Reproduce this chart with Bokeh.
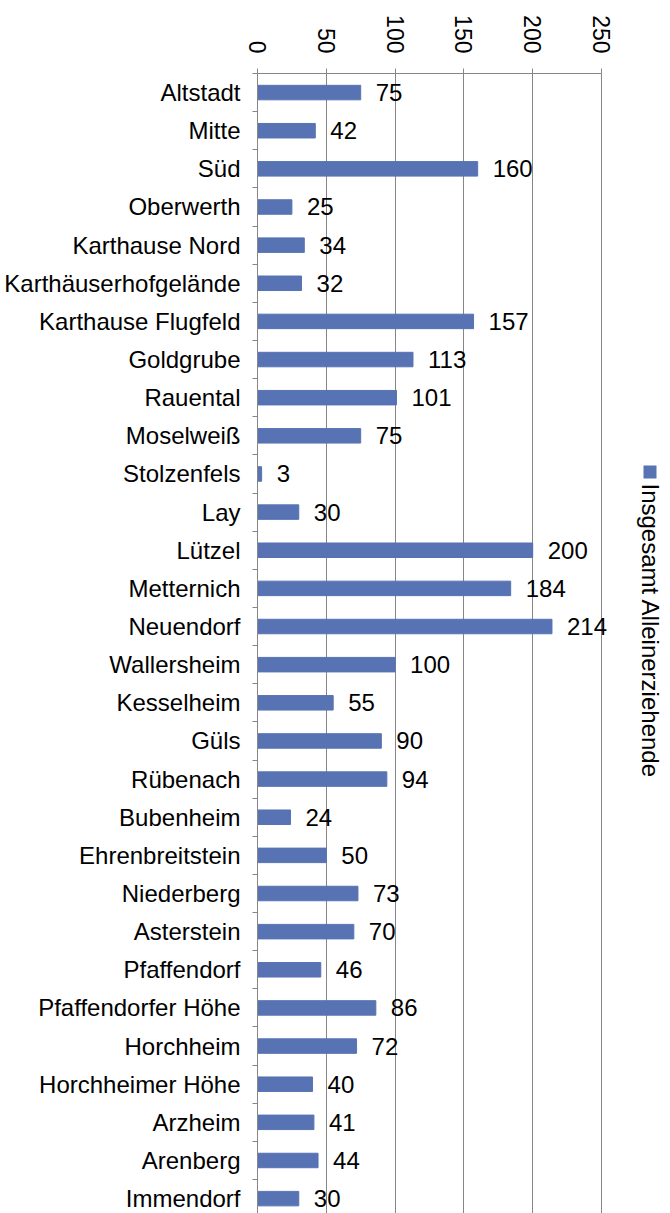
import math
from bokeh.plotting import figure
from bokeh.models import Range1d, FixedTicker, Label, ColumnDataSource, BoxAnnotation
from bokeh.core.properties import value
from bokeh.embed import file_html
from bokeh.resources import INLINE

categories = ["Altstadt", "Mitte", "Süd", "Oberwerth", "Karthause Nord",
              "Karthäuserhofgelände", "Karthause Flugfeld", "Goldgrube", "Rauental",
              "Moselweiß", "Stolzenfels", "Lay", "Lützel", "Metternich", "Neuendorf",
              "Wallersheim", "Kesselheim", "Güls", "Rübenach", "Bubenheim",
              "Ehrenbreitstein", "Niederberg", "Asterstein", "Pfaffendorf",
              "Pfaffendorfer Höhe", "Horchheim", "Horchheimer Höhe", "Arzheim",
              "Arenberg", "Immendorf"]
values = [75, 42, 160, 25, 34, 32, 157, 113, 101, 75, 3, 30, 200, 184, 214,
          100, 55, 90, 94, 24, 50, 73, 70, 46, 86, 72, 40, 41, 44, 30]
x_ticks = [0, 50, 100, 150, 200, 250]
series_name = "Insgesamt Alleinerziehende"

FONT = "Liberation Sans"
BAR = "#5773B3"
GREY = "#868686"

n = len(categories)
pos = list(range(n))
src = ColumnDataSource(dict(y=pos, v=values, t=[str(v) for v in values]))

W, H = 670, 1213
FL, FT = 257, 73
AX_END = 601  # pixel of value 250
x_max = 250 * (W - FL) / (AX_END - FL)
p = figure(width=W, height=H, output_backend="svg", toolbar_location=None,
           x_range=Range1d(0, x_max), y_range=Range1d(29.39, -0.5),
           x_axis_location="above", min_border_left=FL, min_border_right=0,
           min_border_top=FT, min_border_bottom=0)
p.outline_line_color = None
p.background_fill_color = "white"
p.border_fill_color = "white"

p.hbar(y="y", right="v", left=0, height=0.38, source=src, color=BAR)
p.text(x="v", y="y", text="t", source=src, x_offset=15, text_baseline="middle",
       text_align="left", text_font=value(FONT), text_font_size="24px", text_color="black")

xa = p.xaxis[0]
xa.ticker = FixedTicker(ticks=x_ticks)
xa.bounds = (0, 250)
xa.major_label_orientation = -math.pi / 2
xa.major_label_text_font = FONT
xa.major_label_text_font_size = "23px"
xa.major_label_text_color = "black"
xa.major_label_standoff = 15
xa.axis_line_color = GREY
xa.major_tick_line_color = GREY
xa.major_tick_out = 5
xa.major_tick_in = 0
xa.minor_tick_line_color = None

ya = p.yaxis[0]
ya.ticker = FixedTicker(ticks=pos, minor_ticks=[i - 0.5 for i in range(n + 1)])
ya.major_label_overrides = {i: c for i, c in enumerate(categories)}
ya.major_label_text_font = FONT
ya.major_label_text_font_size = "24px"
ya.major_label_text_color = "black"
ya.major_label_standoff = 11
ya.major_tick_line_color = None
ya.axis_line_color = GREY
ya.minor_tick_line_color = GREY
ya.minor_tick_out = 5
ya.minor_tick_in = 0

p.xgrid.ticker = FixedTicker(ticks=x_ticks[1:])
p.xgrid.grid_line_color = GREY
p.ygrid.grid_line_color = None

# legend (rotated, drawn manually; screen units relative to the frame)
FB = H - FT  # frame height
p.add_layout(BoxAnnotation(left=643 - FL, right=656 - FL, top=FB - (465 - FT), bottom=FB - (478 - FT),
                           left_units="screen", right_units="screen",
                           top_units="screen", bottom_units="screen",
                           fill_color=BAR, fill_alpha=1.0, line_color=None))
p.add_layout(Label(x=650 - FL, y=FB - (483 - FT), x_units="screen", y_units="screen",
                   text=series_name, text_color="black", text_font=FONT,
                   text_font_size="24px", angle=-math.pi / 2,
                   text_baseline="middle", text_align="left"))

open("out.html", "w").write(file_html(p, INLINE))
